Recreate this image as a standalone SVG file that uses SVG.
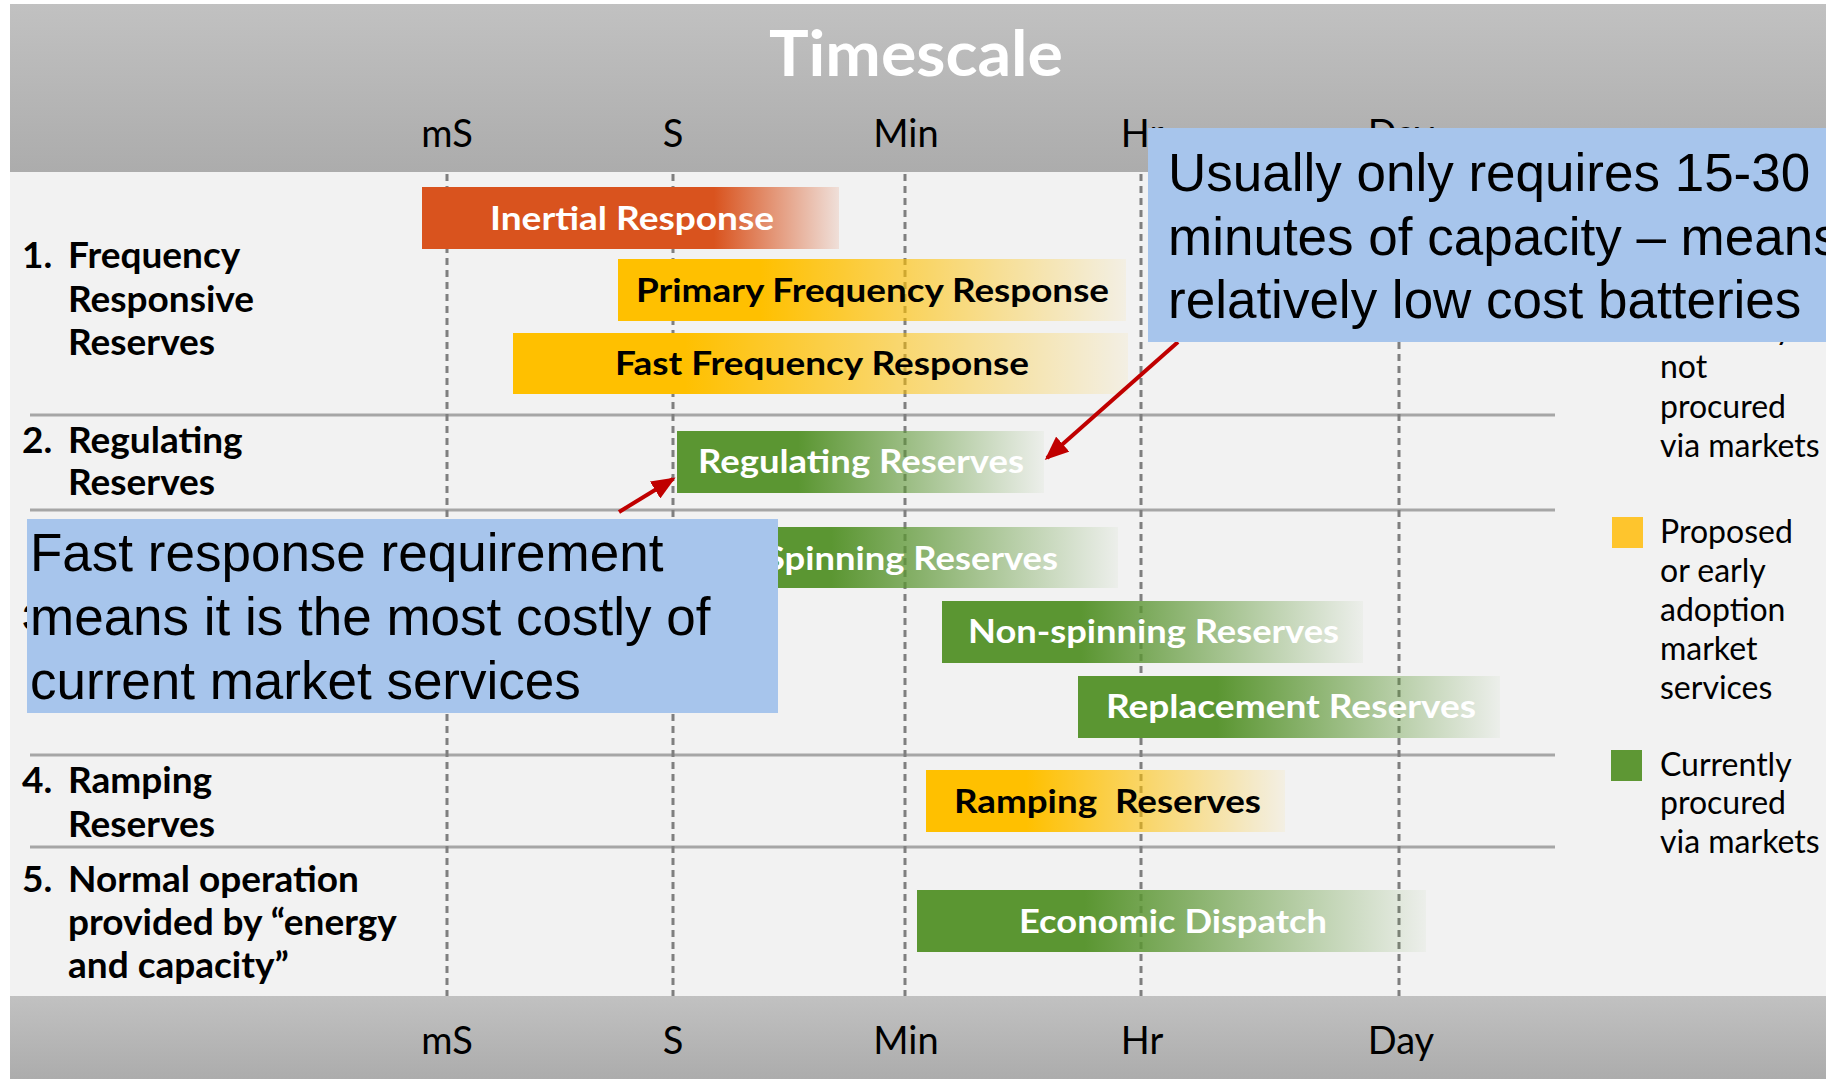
<svg xmlns="http://www.w3.org/2000/svg" width="1826" height="1079" viewBox="0 0 1826 1079">
<style>
.axis{font-family:Lato,"Open Sans",sans-serif;font-size:38px;fill:#000;text-anchor:middle}
.title{font-family:Lato,"Open Sans",sans-serif;font-size:63px;font-weight:bold;fill:#fff}
.barw{font-family:Lato,"Open Sans",sans-serif;font-size:32px;font-weight:bold;fill:#fff}
.bark{font-family:Lato,"Open Sans",sans-serif;font-size:32px;font-weight:bold;fill:#000}
.row{font-family:Lato,"Open Sans",sans-serif;font-size:37px;font-weight:bold;fill:#000}
.leg{font-family:Lato,"Open Sans",sans-serif;font-size:32px;fill:#000}
.note{font-family:"Liberation Sans",Arial,sans-serif;font-size:53px;fill:#000}
.grid{stroke:#7f7f7f;stroke-width:3;stroke-dasharray:7 5}
.sep{stroke:#a6a6a6;stroke-width:3}
.callout{fill:#a7c5ec}
.arrow{stroke:#c00000;stroke-width:4;fill:none}
</style>
<defs>
<linearGradient id="hdr" x1="0" y1="0" x2="0" y2="1"><stop offset="0" stop-color="#c1c1c1"/><stop offset="1" stop-color="#acacac"/></linearGradient>
<linearGradient id="gOr"><stop offset="0" stop-color="#d9531e"/><stop offset="0.7" stop-color="#d9531e"/><stop offset="1" stop-color="#d9531e" stop-opacity="0.12"/></linearGradient>
<linearGradient id="gYe"><stop offset="0" stop-color="#ffc000"/><stop offset="0.28" stop-color="#ffc000"/><stop offset="1" stop-color="#ffc000" stop-opacity="0.06"/></linearGradient>
<linearGradient id="gGr"><stop offset="0" stop-color="#5b9632"/><stop offset="0.33" stop-color="#5b9632"/><stop offset="1" stop-color="#5b9632" stop-opacity="0.04"/></linearGradient>
<marker id="ah" markerUnits="userSpaceOnUse" markerWidth="24" markerHeight="20" refX="21" refY="10" orient="auto"><path d="M0,0 L24,10 L0,20 z" fill="#c00000"/></marker>
</defs>

<g id="background">
<rect x="0" y="0" width="1826" height="1079" fill="#ffffff"/>
<rect x="10" y="172" width="1816" height="824" fill="#f2f2f2"/>
<rect x="10" y="4" width="1816" height="168" fill="url(#hdr)"/>
<rect x="10" y="996" width="1816" height="83" fill="url(#hdr)"/>
<text class="title" x="769" y="76" textLength="294" lengthAdjust="spacingAndGlyphs">Timescale</text>
</g>

<g id="axis-top">
<text class="axis" x="447" y="147">mS</text>
<text class="axis" x="673" y="147">S</text>
<text class="axis" x="906" y="147">Min</text>
<text class="axis" x="1142" y="147">Hr</text>
<text class="axis" x="1401" y="147">Day</text>
</g>
<g id="axis-bottom">
<text class="axis" x="447" y="1054">mS</text>
<text class="axis" x="673" y="1054">S</text>
<text class="axis" x="906" y="1054">Min</text>
<text class="axis" x="1142" y="1054">Hr</text>
<text class="axis" x="1401" y="1054">Day</text>
</g>

<g id="separators">
<line class="sep" x1="30" y1="415" x2="1555" y2="415"/>
<line class="sep" x1="30" y1="510" x2="1555" y2="510"/>
<line class="sep" x1="30" y1="755" x2="1555" y2="755"/>
<line class="sep" x1="30" y1="847" x2="1555" y2="847"/>
</g>
<g id="gridlines">
<line class="grid" x1="447" y1="174" x2="447" y2="996"/>
<line class="grid" x1="673" y1="174" x2="673" y2="996"/>
<line class="grid" x1="905" y1="174" x2="905" y2="996"/>
<line class="grid" x1="1141" y1="174" x2="1141" y2="996"/>
<line class="grid" x1="1399" y1="174" x2="1399" y2="996"/>
</g>

<g id="row-labels">
<text class="row" x="22" y="268">1.</text><text class="row" x="68" y="268">Frequency</text>
<text class="row" x="68" y="312">Responsive</text>
<text class="row" x="68" y="355">Reserves</text>
<text class="row" x="22" y="453">2.</text><text class="row" x="68" y="453">Regulating</text>
<text class="row" x="68" y="495">Reserves</text>
<text class="row" x="22" y="630">3.</text>
<text class="row" x="22" y="793">4.</text><text class="row" x="68" y="793">Ramping</text>
<text class="row" x="68" y="837">Reserves</text>
<text class="row" x="22" y="892">5.</text><text class="row" x="68" y="892">Normal operation</text>
<text class="row" x="68" y="935">provided by “energy</text>
<text class="row" x="68" y="978">and capacity”</text>
</g>

<g id="bar-inertial">
<rect x="422" y="187" width="417" height="62" fill="url(#gOr)"/>
<text class="barw" x="490" y="230" textLength="284" lengthAdjust="spacingAndGlyphs">Inertial Response</text>
</g>
<g id="bar-primary">
<rect x="618" y="259" width="508" height="62" fill="url(#gYe)"/>
<text class="bark" x="636" y="302" textLength="473" lengthAdjust="spacingAndGlyphs">Primary Frequency Response</text>
</g>
<g id="bar-fast">
<rect x="513" y="333" width="615" height="61" fill="url(#gYe)"/>
<text class="bark" x="615" y="375" textLength="414" lengthAdjust="spacingAndGlyphs">Fast Frequency Response</text>
</g>
<g id="bar-regulating">
<rect x="677" y="431" width="367" height="62" fill="url(#gGr)"/>
<text class="barw" x="698" y="473" textLength="326" lengthAdjust="spacingAndGlyphs">Regulating Reserves</text>
</g>
<g id="bar-spinning">
<rect x="690" y="527" width="428" height="61" fill="url(#gGr)"/>
<text class="barw" x="765" y="570" textLength="293" lengthAdjust="spacingAndGlyphs">Spinning Reserves</text>
</g>
<g id="bar-nonspinning">
<rect x="942" y="601" width="421" height="62" fill="url(#gGr)"/>
<text class="barw" x="968" y="643" textLength="371" lengthAdjust="spacingAndGlyphs">Non-spinning Reserves</text>
</g>
<g id="bar-replacement">
<rect x="1078" y="676" width="422" height="62" fill="url(#gGr)"/>
<text class="barw" x="1106" y="718" textLength="370" lengthAdjust="spacingAndGlyphs">Replacement Reserves</text>
</g>
<g id="bar-ramping">
<rect x="926" y="770" width="359" height="62" fill="url(#gYe)"/>
<text class="bark" x="954" y="813" textLength="307" lengthAdjust="spacingAndGlyphs" xml:space="preserve">Ramping  Reserves</text>
</g>
<g id="bar-economic">
<rect x="917" y="890" width="509" height="62" fill="url(#gGr)"/>
<text class="barw" x="1019" y="933" textLength="308" lengthAdjust="spacingAndGlyphs">Economic Dispatch</text>
</g>

<g id="legend">
<text class="leg" x="1660" y="339">Currently</text>
<text class="leg" x="1660" y="378">not</text>
<text class="leg" x="1660" y="418">procured</text>
<text class="leg" x="1660" y="457">via markets</text>
<rect x="1612" y="517" width="31" height="31" fill="#fec52d"/>
<text class="leg" x="1660" y="543">Proposed</text>
<text class="leg" x="1660" y="582">or early</text>
<text class="leg" x="1660" y="621">adoption</text>
<text class="leg" x="1660" y="660">market</text>
<text class="leg" x="1660" y="699">services</text>
<rect x="1611" y="750" width="31" height="31" fill="#5e9734"/>
<text class="leg" x="1660" y="776">Currently</text>
<text class="leg" x="1660" y="814">procured</text>
<text class="leg" x="1660" y="853">via markets</text>
</g>

<g id="connectors">
<line class="arrow" x1="1178" y1="342" x2="1047" y2="458" marker-end="url(#ah)"/>
<line class="arrow" x1="619" y1="512" x2="673" y2="479" marker-end="url(#ah)"/>
</g>

<g id="callout-batteries">
<rect class="callout" x="1148" y="128" width="678" height="214"/>
<text class="note" x="1168" y="191">Usually only requires 15-30</text>
<text class="note" x="1168" y="255">minutes of capacity – means</text>
<text class="note" x="1168" y="318">relatively low cost batteries</text>
</g>
<g id="callout-fast">
<rect class="callout" x="27" y="519" width="751" height="194"/>
<text class="note" x="30" y="571">Fast response requirement</text>
<text class="note" x="30" y="635">means it is the most costly of</text>
<text class="note" x="30" y="699">current market services</text>
</g>
</svg>
